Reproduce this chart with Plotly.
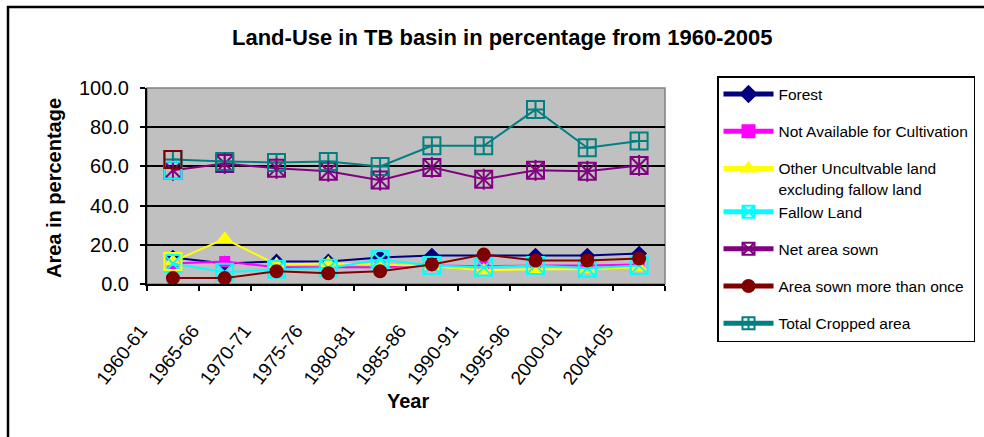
import plotly.graph_objects as go

years = ["1960-61", "1965-66", "1970-71", "1975-76", "1980-81",
         "1985-86", "1990-91", "1995-96", "2000-01", "2004-05"]
forest = [13.5, 10.5, 11.5, 11.5, 13.5, 14.5, 14.5, 14.5, 14.5, 15.5]
not_available = [10.5, 11.5, 8.5, 8.5, 8.5, 9.5, 9.0, 9.5, 9.5, 10.0]
other_uncult = [11.5, 23.0, 10.0, 10.5, 10.0, 9.0, 7.0, 7.5, 7.5, 8.5]
fallow = [10.5, 6.0, 7.5, 8.0, 12.5, 9.5, 8.5, 9.5, 8.0, 9.5]
net_sown = [58.0, 61.5, 59.0, 57.5, 53.0, 59.5, 53.5, 58.0, 57.5, 60.5]
sown_more = [3.0, 3.0, 6.5, 5.5, 6.5, 10.0, 15.0, 12.0, 12.0, 13.0]
total_cropped = [63.5, 62.5, 62.0, 62.5, 60.0, 70.5, 70.5, 89.0, 69.5, 73.0]

FONT = "Arial, Liberation Sans, sans-serif"

series = [
    ("Forest", forest, "#000080", "diamond", 10, "g1"),
    ("Not Available for Cultivation", not_available, "#FF00FF", "square", 9, "g2"),
    ("Other Uncultvable land<br>excluding fallow land", other_uncult, "#FFFF00", "triangle-up", 12, "g3"),
    ("Fallow Land", fallow, "#00FFFF", "square-x-open", 17, "g3"),
    ("Net area sown", net_sown, "#800080", "square-x-open", 17, "g5"),
    ("Area sown more than once", sown_more, "#800000", "circle", 12, "g6"),
    ("Total Cropped area", total_cropped, "#008080", "square-cross-open", 17, "g7"),
]

fig = go.Figure()
for name, vals, col, sym, size, grp in series:
    fig.add_trace(go.Scatter(
        x=years, y=vals, name=name, mode="lines+markers",
        line=dict(color=col, width=2),
        marker=dict(symbol=sym, size=size, color=col, line=dict(color=col, width=2)),
        legendgroup=grp,
    ))

# asterisk vertical stroke for Net area sown markers
fig.add_trace(go.Scatter(x=years, y=net_sown, mode="markers", showlegend=False,
                         marker=dict(symbol="line-ns-open", size=15, color="#800080",
                                     line=dict(color="#800080", width=2))))
# odd first-point markers as in the original
fig.add_trace(go.Scatter(x=years[:1], y=other_uncult[:1], mode="markers", showlegend=False,
                         marker=dict(symbol="square-open", size=17, color="#FFFF00",
                                     line=dict(color="#FFFF00", width=2))))
fig.add_trace(go.Scatter(x=years[:1], y=net_sown[:1], mode="markers", showlegend=False,
                         marker=dict(symbol="square-open", size=17, color="#00FFFF",
                                     line=dict(color="#00FFFF", width=2))))
fig.add_trace(go.Scatter(x=years[:1], y=total_cropped[:1], mode="markers", showlegend=False,
                         marker=dict(symbol="square-open", size=17, color="#800000",
                                     line=dict(color="#800000", width=2))))

L, R, T, B = 147, 665, 88, 284
W, H = 984, 437
pw, ph = R - L, B - T

def px(x):
    return (x - L) / pw

def py(y):
    return (B - y) / ph

fig.update_layout(
    width=W, height=H,
    margin=dict(l=L, r=W - R, t=T, b=H - B, autoexpand=False),
    paper_bgcolor="white", plot_bgcolor="#C0C0C0",
    font=dict(family=FONT, color="black"),
    legend=dict(x=px(717), xanchor="left", y=py(76), yanchor="top",
                bgcolor="white", bordercolor="black", borderwidth=1.5,
                font=dict(size=15.5, family=FONT), tracegroupgap=14,
                valign="top", itemsizing="constant", itemwidth=50, maxheight=1.0),
    showlegend=True,
)

fig.update_xaxes(
    type="category", range=[-0.5, 9.5], tickson="boundaries",
    ticks="outside", ticklen=5, tickwidth=1.5, tickcolor="black",
    showline=True, linecolor="black", linewidth=2, showgrid=False,
    tickangle=-52, tickfont=dict(size=19, family=FONT),
    ticklabelshift=-32, ticklabelstandoff=26,
)
fig.update_yaxes(
    range=[0, 100], dtick=20, tickformat=".1f",
    ticks="outside", ticklen=5, tickwidth=1.5, tickcolor="black",
    showline=True, linecolor="black", linewidth=2,
    showgrid=True, gridcolor="black", gridwidth=1.5, zeroline=False,
    tickfont=dict(size=20, family=FONT), ticklabelstandoff=7,
)

fig.add_annotation(text="<b>Land-Use in TB basin in percentage from 1960-2005</b>",
                   xref="paper", yref="paper", x=px(502), y=py(37),
                   xanchor="center", yanchor="middle", showarrow=False,
                   font=dict(size=22, family=FONT))
fig.add_annotation(text="<b>Area in percentage</b>", textangle=-90,
                   xref="paper", yref="paper", x=px(54), y=py(188),
                   xanchor="center", yanchor="middle",
                   showarrow=False, font=dict(size=20, family=FONT))
fig.add_annotation(text="<b>Year</b>", xref="paper", yref="paper",
                   x=px(408), y=py(401), xanchor="center", yanchor="middle",
                   showarrow=False, font=dict(size=20, family=FONT))

# plot-area border (grey) and outer chart border
fig.add_shape(type="rect", xref="paper", yref="paper", x0=0, x1=1, y0=0, y1=1,
              line=dict(color="#808080", width=1.5), layer="below")
fig.add_shape(type="rect", xref="paper", yref="paper",
              x0=px(8), x1=px(1000), y0=py(460), y1=py(7),
              line=dict(color="black", width=2.5))

fig.write_html("out.html", config={"displayModeBar": False},
               post_script="document.body.style.margin='0px';")
